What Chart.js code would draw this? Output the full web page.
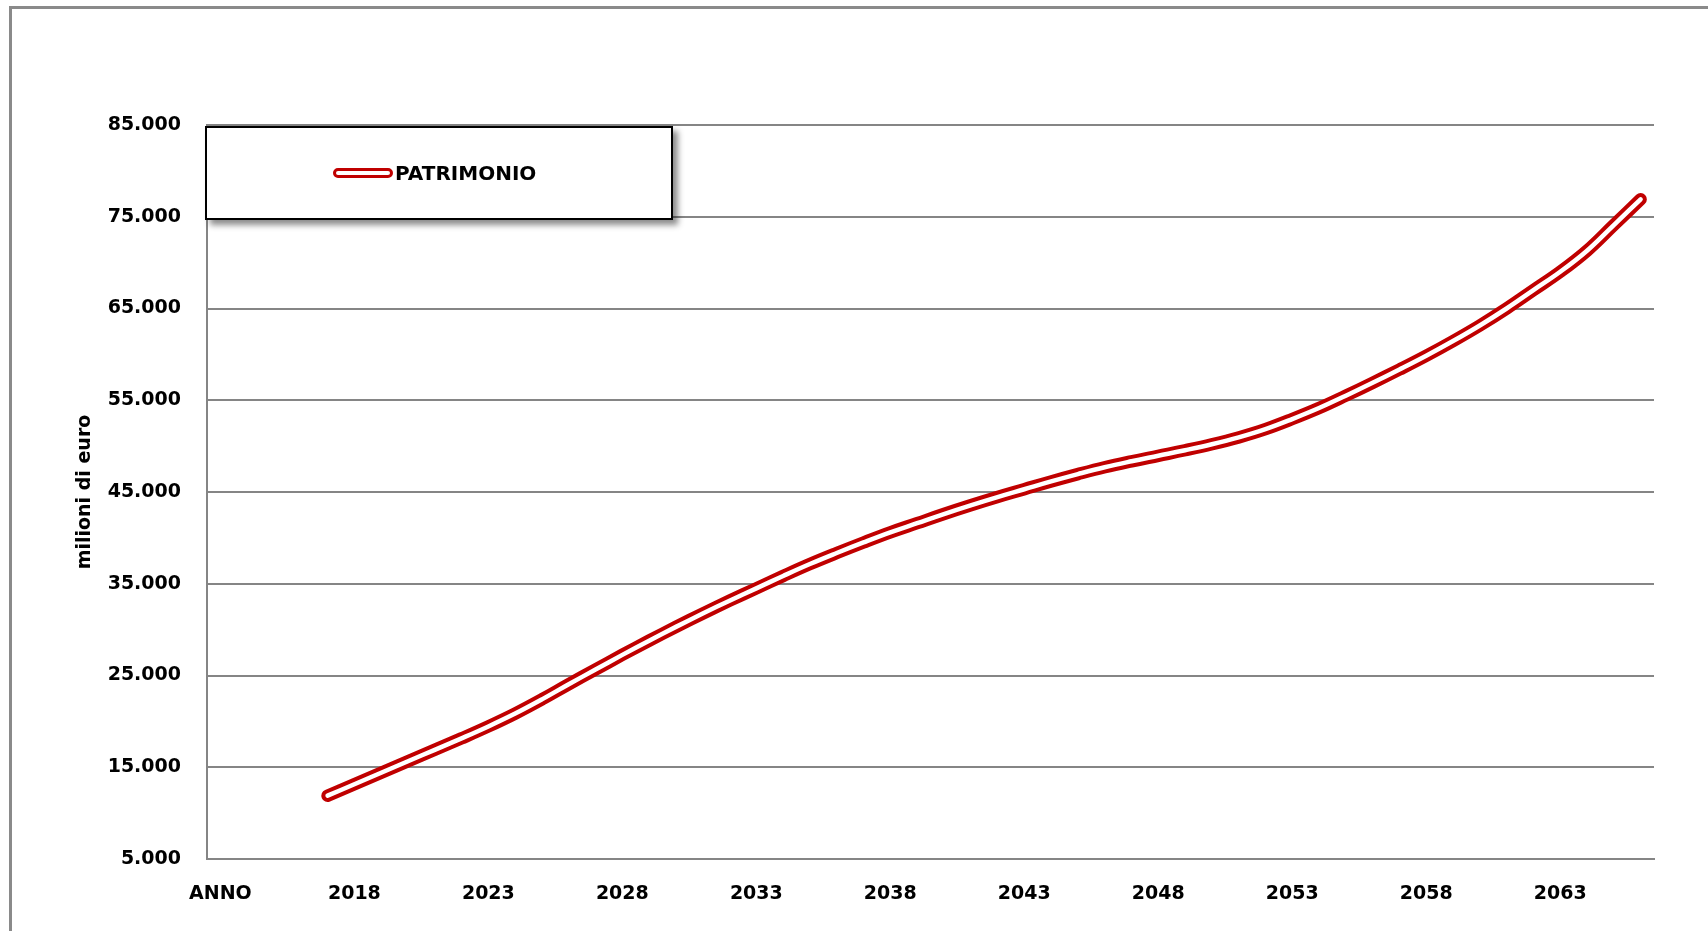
<!DOCTYPE html>
<html lang="it">
<head>
<meta charset="utf-8">
<title>Patrimonio</title>
<script src="https://cdn.jsdelivr.net/npm/chart.js@4.4.1/dist/chart.umd.min.js"></script>
<style>
    html, body { margin: 0; padding: 0; background: #fff; overflow: hidden; }
    body { width: 1708px; height: 931px; position: relative; }
    #cornice {
        position: absolute; left: 9px; top: 6px; width: 1800px; height: 1000px;
        border-left: 3px solid #8a8a8a; border-top: 3px solid #8a8a8a;
    }
    #grafico { position: absolute; left: 0; top: 0; }
    #legenda {
        position: absolute; left: 205px; top: 126px; width: 468px; height: 94px;
        box-sizing: border-box; border: 2.5px solid #000; background: #fff;
        box-shadow: 5px 5px 6px rgba(0, 0, 0, 0.45);
    }
    #legenda .campione {
        position: absolute; left: 126px; top: 40px; width: 54px; height: 4px;
        border: 3.5px solid #c00000; border-radius: 6px; background: #fff;
    }
    #legenda .testo {
        position: absolute; left: 188px; top: 33px; line-height: 24px;
        font: bold 20px "DejaVu Sans", sans-serif; color: #000;
    }
</style>
</head>
<body>
<div id="cornice"></div>
<canvas id="grafico" width="1708" height="931"></canvas>
<div id="legenda"><span class="campione"></span><span class="testo">PATRIMONIO</span></div>

<script>
// Categorie (la prima è l'intestazione "ANNO", poi tre colonne vuote)
const anni = [
    'ANNO', '', '', '',
    '2017', '2018', '2019', '2020', '2021', '2022', '2023', '2024', '2025', '2026',
    '2027', '2028', '2029', '2030', '2031', '2032', '2033', '2034', '2035', '2036',
    '2037', '2038', '2039', '2040', '2041', '2042', '2043', '2044', '2045', '2046',
    '2047', '2048', '2049', '2050', '2051', '2052', '2053', '2054', '2055', '2056',
    '2057', '2058', '2059', '2060', '2061', '2062', '2063', '2064', '2065', '2066'
];

// Patrimonio in milioni di euro, 2017-2066
const patrimonio = [
    11900, 13150, 14400, 15650, 16900, 18150, 19450, 20850, 22400, 24050,
    25650, 27250, 28800, 30300, 31750, 33150, 34500, 35850, 37150, 38350,
    39500, 40600, 41600, 42600, 43550, 44450, 45300, 46150, 46950, 47700,
    48350, 48950, 49550, 50200, 50950, 51850, 52950, 54150, 55500, 56900,
    58350, 59850, 61450, 63150, 65000, 67000, 69000, 71300, 74100, 76900
];

// Tick dell'asse Y
const yMin = 5000;
const yMax = 85000;
const yPasso = 10000;

const rosso = '#c00000';
const grigio = '#858585';
const fontBase = { family: 'DejaVu Sans', weight: 'bold', size: 19 };

// allinea i valori alle categorie (le prime colonne non hanno dati)
const vuoti = anni.length - patrimonio.length;
const serie = Array(vuoti).fill(null).concat(patrimonio);

// separatore delle migliaia all'italiana
function formatta(v) {
    return String(v).replace(/\B(?=(\d{3})+(?!\d))/g, '.');
}

const ctx = document.getElementById('grafico').getContext('2d');
const grafico = new Chart(ctx, {
    type: 'line',
    data: {
        labels: anni,
        datasets: [
            {
                // contorno rosso della linea doppia (disegnato sotto)
                label: 'PATRIMONIO',
                data: serie,
                order: 2,
                borderColor: rosso,
                borderWidth: 12.5,
                borderCapStyle: 'round',
                borderJoinStyle: 'round',
                tension: 0.4,
                pointRadius: 0,
                fill: false
            },
            {
                // riga bianca interna (disegnata sopra)
                label: 'interno',
                data: serie,
                order: 1,
                borderColor: '#ffffff',
                borderWidth: 4.5,
                borderCapStyle: 'round',
                borderJoinStyle: 'round',
                tension: 0.4,
                pointRadius: 0,
                fill: false
            }
        ]
    },
    options: {
        responsive: false,
        animation: false,
        devicePixelRatio: 1,
        layout: {
            padding: { top: 125, right: 54, bottom: 0, left: 0 }
        },
        plugins: {
            legend: { display: false },
            tooltip: { enabled: false }
        },
        scales: {
            x: {
                type: 'category',
                offset: true,
                grid: { display: false, drawTicks: false },
                border: { display: true, color: grigio, width: 2 },
                ticks: {
                    autoSkip: false,
                    maxRotation: 0,
                    padding: 24,
                    color: '#000',
                    font: fontBase,
                    callback: function (v, i) {
                        return i % 5 === 0 ? this.getLabelForValue(v) : '';
                    }
                },
                afterFit: (s) => { s.height = 72; }
            },
            y: {
                min: yMin,
                max: yMax,
                grid: { color: grigio, lineWidth: 2, drawTicks: false },
                border: { display: true, color: grigio, width: 2 },
                ticks: {
                    stepSize: yPasso,
                    padding: 26,
                    color: '#000',
                    font: fontBase,
                    callback: (v) => formatta(v)
                },
                title: {
                    display: true,
                    text: 'milioni di euro',
                    color: '#000',
                    font: fontBase,
                    padding: { top: 74, bottom: 0 }
                },
                afterFit: (s) => { s.width = 207; }
            }
        }
    }
});
</script>
</body>
</html>
